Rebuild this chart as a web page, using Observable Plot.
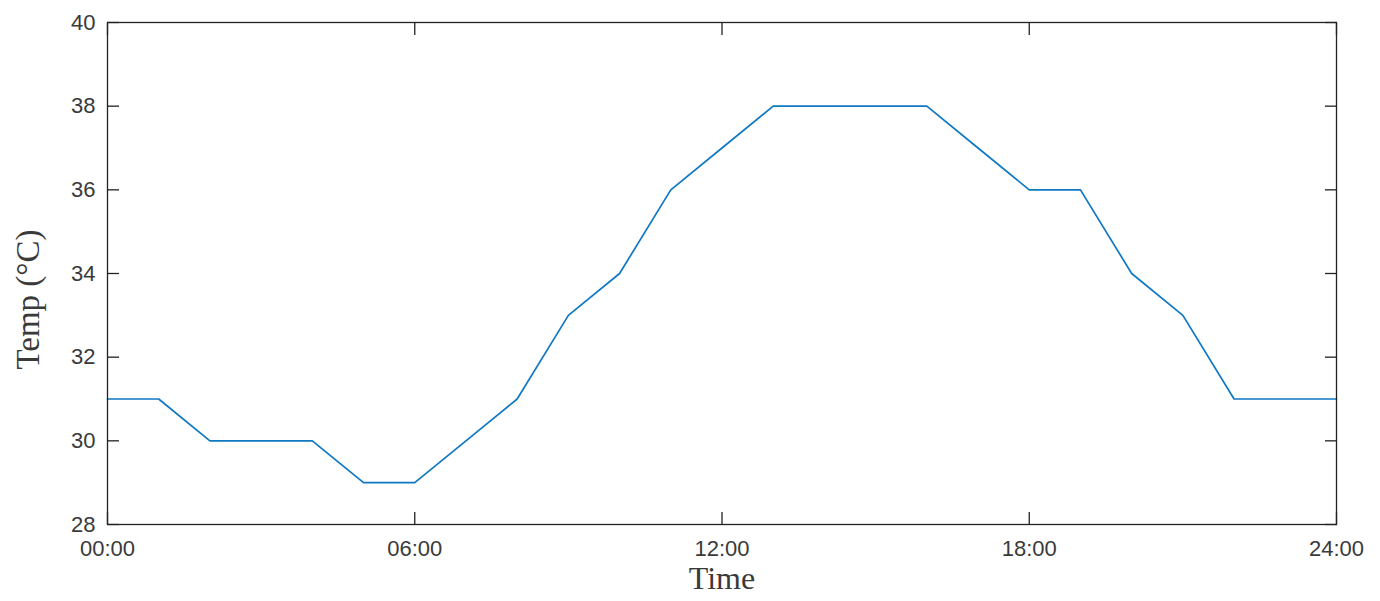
<!DOCTYPE html>
<html>
<head>
<meta charset="utf-8">
<script src="https://cdn.jsdelivr.net/npm/d3@7"></script>
<script src="https://cdn.jsdelivr.net/npm/@observablehq/plot@0.6"></script>
<style>
  html, body { margin: 0; padding: 0; background: #fff; }
</style>
</head>
<body>
<div id="chart"></div>
<script>
const hours = [0,1,2,3,4,5,6,7,8,9,10,11,12,13,14,15,16,17,18,19,20,21,22,23,24];
const temps = [31,31,30,30,30,29,29,30,31,33,34,36,37,38,38,38,38,37,36,36,34,33,31,31,31];
const xTicks = [0,6,12,18,24];
const xTickLabels = ["00:00","06:00","12:00","18:00","24:00"];
const yTicks = [28,30,32,34,36,38,40];
const xLabel = "Time";
const yLabel = "Temp (°C)";

const data = hours.map((h, i) => ({h, t: temps[i]}));
const fmt = d => xTickLabels[xTicks.indexOf(d)];
const serif = "'Liberation Serif', 'Times New Roman', serif";

const chart = Plot.plot({
  width: 1380,
  height: 601,
  marginLeft: 107,
  marginRight: 44,
  marginTop: 22,
  marginBottom: 77,
  style: {background: "#fff", fontFamily: "'Liberation Sans', Arial, sans-serif"},
  x: {domain: [0, 24]},
  y: {domain: [28, 40]},
  marks: [
    Plot.line(data, {x: "h", y: "t", stroke: "#0f78c4", strokeWidth: 1.7}),
    Plot.frame({stroke: "#222", strokeWidth: 1.3}),
    // inward ticks
    Plot.axisX({anchor: "bottom", ticks: xTicks, tickSize: -12, text: null, label: null, stroke: "#222", strokeWidth: 1.3}),
    Plot.axisX({anchor: "top", ticks: xTicks, tickSize: -12, text: null, label: null, stroke: "#222", strokeWidth: 1.3}),
    Plot.axisY({anchor: "left", ticks: yTicks, tickSize: -12, text: null, label: null, stroke: "#222", strokeWidth: 1.3}),
    Plot.axisY({anchor: "right", ticks: yTicks, tickSize: -12, text: null, label: null, stroke: "#222", strokeWidth: 1.3}),
    // labels
    Plot.axisX({anchor: "bottom", ticks: xTicks, tickSize: 0, tickPadding: 16, tickFormat: fmt, label: null, fontSize: 22, fill: "#3a3a3a"}),
    Plot.axisY({anchor: "left", ticks: yTicks, tickSize: 0, tickPadding: 12, label: null, fontSize: 22, fill: "#3a3a3a"}),
    Plot.text([xLabel], {frameAnchor: "bottom", lineAnchor: "bottom", textAnchor: "middle", dy: 64, text: d => d, fontSize: 32, fontFamily: serif, fill: "#3a3a3a"}),
    Plot.text([yLabel], {frameAnchor: "left", textAnchor: "middle", lineAnchor: "middle", dx: -79, dy: 26, rotate: -90, text: d => d, fontSize: 33, fontFamily: serif, fill: "#3a3a3a"})
  ]
});
document.getElementById("chart").appendChild(chart);
</script>
</body>
</html>
